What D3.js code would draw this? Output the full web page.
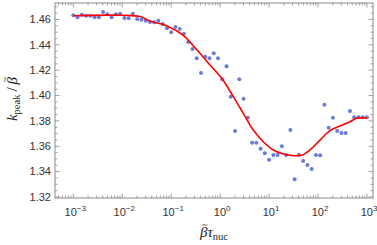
<!DOCTYPE html>
<html><head><meta charset="utf-8">
<script src="https://cdn.jsdelivr.net/npm/d3@7"></script>
<style>body{margin:0;background:#fff}svg{display:block}</style>
</head><body>
<script>
// x values (beta*tau_nuc), log-spaced samples
const xs = [0.001,0.001222,0.001493,0.001824,0.002228,0.002722,0.003325,0.004063,0.004963,0.006063,
0.007406,0.009048,0.01105,0.0135,0.0165,0.02015,0.02462,0.03008,0.03674,0.04489,
0.05484,0.06699,0.08184,0.1,0.1222,0.1493,0.1824,0.2228,0.2722,0.3325,
0.4063,0.4963,0.6063,0.7406,0.9048,1.105,1.35,1.65,2.015,2.462,
3.008,3.674,4.489,5.484,6.699,8.184,10,12.22,14.93,18.24,
22.28,27.22,33.25,40.63,49.63,60.63,74.06,90.48,110.5,135.0,
165.0,201.5,246.2,300.8,367.4,448.9,548.4,669.9,818.4,1000];
// k_peak / beta values
const ys = [1.4633,1.4617,1.4638,1.4630,1.4630,1.4617,1.4617,1.4659,1.4641,1.4617,
1.4641,1.4646,1.4612,1.4609,1.4646,1.4604,1.4598,1.4590,1.4580,1.4578,
1.4590,1.4564,1.4530,1.4499,1.4541,1.4525,1.4488,1.4422,1.4367,1.4294,
1.4178,1.4306,1.4294,1.4333,1.4294,1.4128,1.4231,1.3991,1.3720,1.4128,
1.3975,1.3825,1.3628,1.3628,1.3581,1.3545,1.3494,1.3531,1.3531,1.3600,
1.3531,1.3728,1.3340,1.3534,1.3484,1.3452,1.3421,1.3531,1.3529,1.3928,
1.3747,1.3825,1.3720,1.3705,1.3705,1.3878,1.3829,1.3829,1.3829,1.3829];
// fitted curve
const fitX = [0.001,0.00489,0.01035,0.0231,0.0369,0.082,0.174,0.337,0.621,1.14,1.86,2.97,4.75,7.60,12.2,19.5,31.2,46.3,68.5,110,175,281,450,617,1000];
const fitY = [1.4630,1.4634,1.4633,1.4623,1.4588,1.4549,1.4477,1.4359,1.4241,1.4123,1.3991,1.3860,1.3728,1.3636,1.3571,1.3539,1.3526,1.3529,1.3571,1.3649,1.3723,1.3760,1.3794,1.3821,1.3821];
const xTickExps = [-3,-2,-1,0,1,2,3];
const yTickLabels = ["1.32","1.34","1.36","1.38","1.40","1.42","1.44","1.46"];

const W = 377, H = 245;
const L = 55, R = 373, T = 3, B = 198;
const svg = d3.select("body").append("svg").attr("width", W).attr("height", H);

const x = d3.scaleLog().domain([Math.pow(10,-3.374), Math.pow(10,3.123)]).range([L, R]);
const y = d3.scaleLinear().domain([1.3192, 1.473]).range([B, T]);

const frameCol = "#8a8a8a";
const g = svg.append("g");

const yMajor = yTickLabels.map(Number);
const yMinor = d3.range(1.32, 1.4701, 0.005).filter(v => !yMajor.some(m => Math.abs(m - v) < 1e-6));
const xMajor = xTickExps.map(e => Math.pow(10, e));
const xMinor = [];
for (let e = -4; e <= 3; e++) for (let k = 2; k <= 9; k++) {
  const v = k * Math.pow(10, e);
  if (v > x.domain()[0] && v < x.domain()[1]) xMinor.push(v);
}
function tickLines(vals, len, horiz) {
  vals.forEach(v => {
    if (horiz) {
      const px = x(v);
      g.append("line").attr("x1", px).attr("x2", px).attr("y1", B).attr("y2", B - len).attr("stroke", frameCol).attr("stroke-width", 0.8);
      g.append("line").attr("x1", px).attr("x2", px).attr("y1", T).attr("y2", T + len).attr("stroke", frameCol).attr("stroke-width", 0.8);
    } else {
      const py = y(v);
      g.append("line").attr("x1", L).attr("x2", L + len).attr("y1", py).attr("y2", py).attr("stroke", frameCol).attr("stroke-width", 0.8);
      g.append("line").attr("x1", R).attr("x2", R - len).attr("y1", py).attr("y2", py).attr("stroke", frameCol).attr("stroke-width", 0.8);
    }
  });
}
tickLines(xMajor, 4.5, true);
tickLines(xMinor, 2.5, true);
tickLines(yMajor, 4.5, false);
tickLines(yMinor, 2.5, false);

g.append("rect").attr("x", L).attr("y", T).attr("width", R - L).attr("height", B - T)
  .attr("fill", "none").attr("stroke", frameCol).attr("stroke-width", 1);

yTickLabels.forEach(t => {
  svg.append("text").attr("x", L - 4).attr("y", y(+t)).attr("dy", "0.35em")
    .attr("text-anchor", "end").attr("font-family", "Liberation Sans, Arial, sans-serif")
    .attr("font-size", 11).attr("fill", "#333").text(t);
});
xTickExps.forEach(e => {
  const t = svg.append("text").attr("x", x(Math.pow(10, e)) + 2).attr("y", 216)
    .attr("text-anchor", "middle").attr("font-family", "Liberation Sans, Arial, sans-serif")
    .attr("font-size", 11).attr("fill", "#333");
  t.append("tspan").text("10");
  t.append("tspan").attr("dy", -5).attr("font-size", 8).text(e < 0 ? "\u2212" + (-e) : String(e));
});

svg.append("g").selectAll("circle").data(xs.map((v, i) => [v, ys[i]])).join("circle")
  .attr("cx", d => x(d[0])).attr("cy", d => y(d[1])).attr("r", 2)
  .attr("fill", "#6a7bd8");

const line = d3.line().x(d => x(d[0])).y(d => y(d[1])).curve(d3.curveCatmullRom.alpha(0.5));
svg.append("path").datum(fitX.map((v, i) => [v, fitY[i]])).attr("d", line)
  .attr("fill", "none").attr("stroke", "#ff0000").attr("stroke-width", 1.6);

// axis titles
const serif = "Liberation Serif, Times New Roman, serif";
function addTilde(grp, txt, idx) {
  const ext = txt.node().getExtentOfChar(idx);
  const cx = ext.x + ext.width / 2 + 1.2;
  grp.append("text").attr("x", cx).attr("y", -9.2).attr("text-anchor", "middle")
    .attr("font-family", serif).attr("font-size", 10).attr("fill", "#222").text("~");
}
const gy = svg.append("g").attr("transform", "translate(17,99) rotate(-90)");
const yl = gy.append("text").attr("x", 0).attr("y", 0)
  .attr("text-anchor", "middle").attr("font-family", serif).attr("font-size", 15).attr("fill", "#222");
yl.append("tspan").attr("font-style", "italic").text("k");
yl.append("tspan").attr("font-size", 10.5).attr("dy", 3).text("peak");
yl.append("tspan").attr("dy", -3).text("\u2009/\u2009");
yl.append("tspan").attr("font-style", "italic").text("\u03B2");
addTilde(gy, yl, 8);

const gx = svg.append("g").attr("transform", "translate(" + ((L + R) / 2) + ",237)");
const xl = gx.append("text").attr("x", 0).attr("y", 0)
  .attr("text-anchor", "middle").attr("font-family", serif).attr("font-size", 15).attr("fill", "#222");
xl.append("tspan").attr("font-style", "italic").text("\u03B2\u03C4");
xl.append("tspan").attr("font-size", 10.5).attr("dy", 3).text("nuc");
addTilde(gx, xl, 0);
</script>
</body></html>
